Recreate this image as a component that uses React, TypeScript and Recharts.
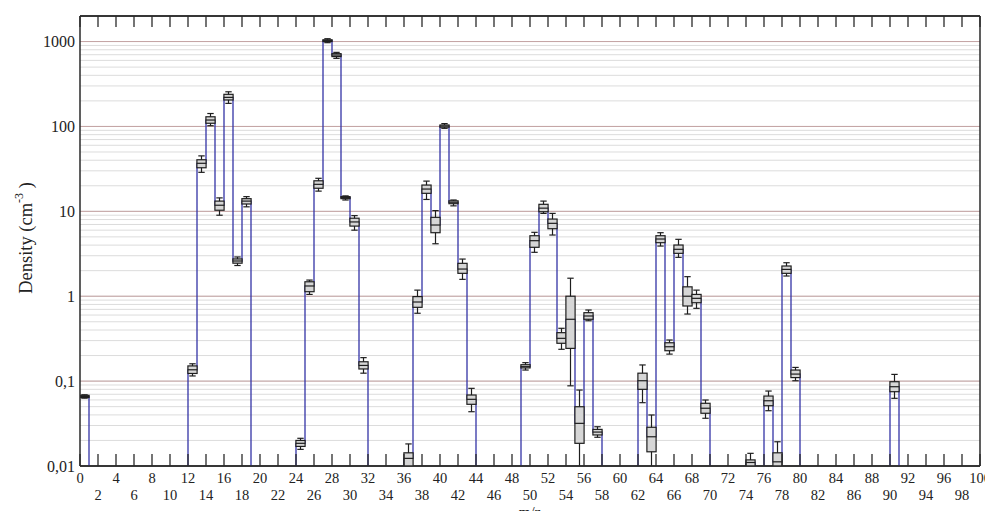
import React from 'react';
import { ComposedChart, Line, Bar, XAxis, YAxis, CartesianGrid, ReferenceLine, Label } from 'recharts';

// Segment start (box drawn at segStart + 0.5)
const segStart = [0, 12, 13, 14, 15, 16, 17, 18, 24, 25, 26, 27, 28, 29, 30, 31, 36, 37, 38, 39, 40, 41, 42, 43, 49, 50, 51, 52, 53, 54, 55, 56, 57, 62, 63, 64, 65, 66, 67, 68, 69, 74, 76, 77, 78, 79, 90];
const boxMin = [0.063, 0.115, 28.8, 102, 9.0, 187, 2.3, 11.3, 0.0157, 1.05, 17.3, 970, 634, 13.6, 6.0, 0.124, 0.008, 0.63, 13.8, 4.15, 95, 11.6, 1.58, 0.0436, 0.135, 3.29, 9.46, 5.26, 0.237, 0.088, 0.008, 0.514, 0.0218, 0.0557, 0.008, 3.9, 0.208, 2.87, 0.617, 0.72, 0.0365, 0.008, 0.0448, 0.008, 1.73, 0.101, 0.0627];
const boxQ1 = [0.064, 0.123, 32.6, 109, 10.3, 205, 2.45, 12.2, 0.017, 1.13, 18.7, 1000, 665, 14.1, 6.7, 0.139, 0.009, 0.74, 16.3, 5.6, 98, 12.3, 1.86, 0.0533, 0.143, 3.77, 9.89, 6.24, 0.279, 0.243, 0.0185, 0.535, 0.0232, 0.08, 0.0147, 4.27, 0.228, 3.2, 0.767, 0.838, 0.0418, 0.009, 0.0513, 0.009, 1.86, 0.11, 0.075];
const boxMed = [0.066, 0.136, 36.8, 119, 11.8, 220, 2.6, 13.2, 0.0185, 1.32, 20.8, 1025, 693, 14.5, 7.5, 0.153, 0.0123, 0.855, 18.3, 6.9, 101, 12.8, 2.09, 0.061, 0.148, 4.51, 10.9, 7.22, 0.319, 0.535, 0.0318, 0.585, 0.0251, 0.101, 0.0221, 4.72, 0.254, 3.57, 1.0, 0.944, 0.0479, 0.011, 0.0587, 0.0112, 2.07, 0.121, 0.0859];
const boxQ3 = [0.068, 0.151, 40.5, 130, 13.2, 239, 2.75, 14.1, 0.02, 1.48, 22.9, 1050, 720, 14.9, 8.3, 0.169, 0.0143, 0.99, 20.4, 8.5, 104, 13.3, 2.44, 0.0686, 0.156, 5.16, 12.1, 8.11, 0.372, 1.0, 0.0499, 0.64, 0.027, 0.124, 0.0286, 5.16, 0.283, 4.01, 1.29, 1.05, 0.0548, 0.0118, 0.0667, 0.0143, 2.27, 0.135, 0.0984];
const boxMax = [0.069, 0.16, 45, 142, 14.4, 256, 2.9, 14.9, 0.0212, 1.55, 24.5, 1080, 746, 15.2, 8.9, 0.189, 0.0182, 1.18, 22.7, 10.2, 108, 13.6, 2.74, 0.0822, 0.165, 5.66, 13.2, 9.46, 0.419, 1.63, 0.0785, 0.688, 0.029, 0.155, 0.0399, 5.6, 0.305, 4.68, 1.7, 1.18, 0.0599, 0.0141, 0.0764, 0.0193, 2.48, 0.145, 0.12];

const FLOOR = 0.001; // below the axis floor: step line drops out of view
const xTicks = Array.from({ length: 51 }, (_, i) => i * 2);
const yDecades = [0.01, 0.1, 1, 10, 100, 1000];
const yDecadeLabels = ['0,01', '0,1', '1', '10', '100', '1000'];
const yMinorMult = [1, 2, 3, 4, 5, 6, 7, 8, 9];
const yGridTicks: number[] = [];
yDecades.forEach((d, i) => {
  if (i === yDecades.length - 1) { yGridTicks.push(d); return; }
  yMinorMult.forEach((m) => yGridTicks.push(+(d * m).toPrecision(6)));
});

const data = Array.from({ length: 101 }, (_, x) => {
  const k = segStart.indexOf(x);
  if (k < 0) return { x, step: FLOOR, box: null as any };
  return {
    x,
    step: boxMed[k],
    box: { min: boxMin[k], q1: boxQ1[k], med: boxMed[k], q3: boxQ3[k], max: boxMax[k] },
  };
});

const FONT = '"Liberation Serif", "DejaVu Serif", serif';
const AXIS = '#2a2a2a';

const yFmt = (v: number) => {
  const i = yDecades.findIndex((d) => Math.abs(v - d) / d < 1e-6);
  return i >= 0 ? yDecadeLabels[i] : '';
};

const EmptyTick = () => <g />;

const XTick = (props: any) => {
  const { x, y, payload } = props;
  const v = payload.value;
  const row2 = v % 4 !== 0;
  return (
    <text x={x} y={y + (row2 ? 34 : 17)} textAnchor="middle" fontSize={14.5} fill="#222" style={{ fontFamily: FONT }}>
      {v}
    </text>
  );
};

const YTick = (props: any) => {
  const { x, y, payload } = props;
  const s = yFmt(payload.value);
  if (!s) return <g />;
  return (
    <text x={x} y={y} dy={5.5} textAnchor="end" fontSize={16} fill="#222" style={{ fontFamily: FONT }}>
      {s}
    </text>
  );
};

const BoxShape = (props: any) => {
  const { x, y, width, height, payload } = props;
  const b = payload && payload.box;
  if (!b || !isFinite(y) || !isFinite(height) || height <= 0) return null;
  const lMax = Math.log10(b.max);
  const lMin = Math.log10(b.min);
  const pix = (v: number) => y + ((lMax - Math.log10(v)) / (lMax - lMin)) * height;
  const cx = x + width / 2;
  const hw = 4.6;
  const cap = 3.2;
  const yMax = pix(b.max), yQ3 = pix(b.q3), yMed = pix(b.med), yQ1 = pix(b.q1), yMin = pix(b.min);
  return (
    <g stroke="#1e1e1e" strokeWidth={1.2} fill="none">
      <line x1={cx} x2={cx} y1={yMax} y2={yMin} />
      <line x1={cx - cap} x2={cx + cap} y1={yMax} y2={yMax} />
      <line x1={cx - cap} x2={cx + cap} y1={yMin} y2={yMin} />
      <rect x={cx - hw} y={yQ3} width={hw * 2} height={Math.max(yQ1 - yQ3, 0.5)} fill="#d6d6d6" />
      <line x1={cx - hw} x2={cx + hw} y1={yMed} y2={yMed} />
    </g>
  );
};

const YTitle = (props: any) => {
  const vb = props.viewBox || { x: 0, y: 16, width: 80, height: 450 };
  const cx = vb.x + 26;
  const cy = vb.y + vb.height / 2 - 3;
  return (
    <text
      x={cx}
      y={cy}
      transform={`rotate(-90, ${cx}, ${cy})`}
      textAnchor="middle"
      dominantBaseline="central"
      fontSize={18.5}
      fill="#222"
      style={{ fontFamily: FONT }}
    >
      Density (cm<tspan dy={-7} fontSize={12}>-3</tspan>
      <tspan dy={7}> )</tspan>
    </text>
  );
};

const XTitle = (props: any) => {
  const vb = props.viewBox || { x: 80, y: 466, width: 900, height: 53 };
  return (
    <text x={vb.x + vb.width / 2} y={vb.y + 51} textAnchor="middle" fontSize={15} fill="#222" style={{ fontFamily: FONT }}>
      m/z
    </text>
  );
};

export default function App() {
  return (
    <div style={{ margin: -8, width: 993, height: 519, background: '#fff', fontFamily: FONT }}>
      <ComposedChart width={993} height={519} data={data} margin={{ top: 16, right: 13, left: 0, bottom: 0 }}>
        <CartesianGrid vertical={false} stroke="#dcdcdc" strokeWidth={1} />
        <XAxis xAxisId="box" dataKey="x" type="number" domain={[-0.5, 99.5]} allowDataOverflow hide height={0} />
        <XAxis
          xAxisId="main"
          dataKey="x"
          type="number"
          domain={[0, 100]}
          ticks={xTicks}
          interval={0}
          height={53}
          tickLine={false}
          axisLine={false}
          tickSize={0}
          tickMargin={0}
          tick={<XTick />}
        >
          <Label content={<XTitle />} />
        </XAxis>
        <XAxis
          xAxisId="bottomTicks"
          dataKey="x"
          type="number"
          domain={[0, 100]}
          ticks={xTicks}
          interval={0}
          orientation="bottom"
          mirror
          height={1}
          tick={<EmptyTick />}
          tickSize={12}
          tickLine={{ stroke: AXIS, strokeWidth: 1.3 }}
          axisLine={{ stroke: AXIS, strokeWidth: 1.5 }}
        />
        <XAxis
          xAxisId="top"
          dataKey="x"
          type="number"
          domain={[0, 100]}
          ticks={xTicks}
          interval={0}
          orientation="top"
          mirror
          height={1}
          tick={<EmptyTick />}
          tickSize={11}
          tickLine={{ stroke: AXIS, strokeWidth: 1.3 }}
          axisLine={{ stroke: AXIS, strokeWidth: 1.5 }}
        />
        <YAxis
          scale="log"
          domain={[0.01, 2000]}
          allowDataOverflow
          ticks={yGridTicks}
          interval={0}
          width={80}
          tickSize={0}
          tickMargin={5}
          tickLine={false}
          axisLine={{ stroke: AXIS, strokeWidth: 1.5 }}
          tick={<YTick />}
        >
          <Label content={<YTitle />} />
        </YAxis>
        {yDecades.slice(1).map((d) => (
          <ReferenceLine key={d} y={d} xAxisId="main" stroke="#c4a3a3" strokeWidth={1} />
        ))}
        <ReferenceLine x={100} xAxisId="main" stroke={AXIS} strokeWidth={1.5} />
        <ReferenceLine y={2000} xAxisId="main" stroke={AXIS} strokeWidth={1.5} />
        <ReferenceLine y={0.01} xAxisId="main" stroke={AXIS} strokeWidth={1.5} />
        <Line
          xAxisId="main"
          dataKey="step"
          type="stepAfter"
          stroke="#3434a6"
          strokeWidth={1.3}
          dot={false}
          activeDot={false}
          isAnimationActive={false}
        />
        <Bar
          xAxisId="box"
          dataKey={(d: any) => (d.box ? [d.box.min, d.box.max] : null)}
          barSize={7}
          shape={<BoxShape />}
          isAnimationActive={false}
          zIndex={450}
        />
      </ComposedChart>
    </div>
  );
}
